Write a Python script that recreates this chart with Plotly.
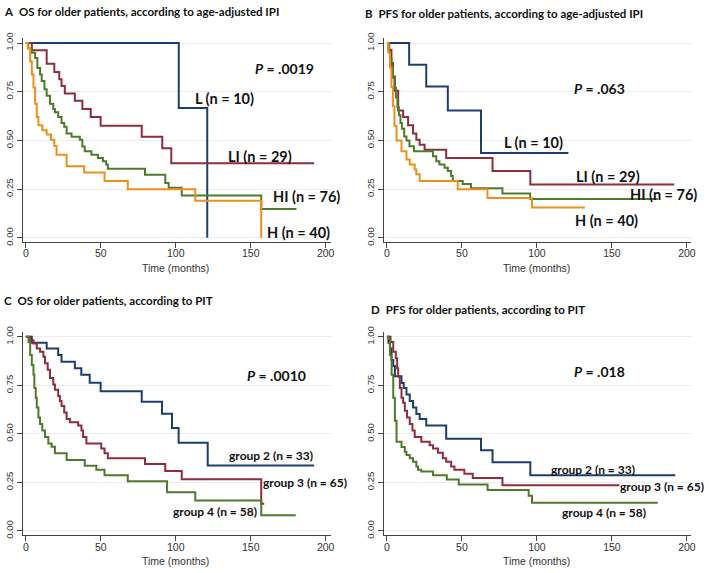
import plotly.graph_objects as go

# ---------------- data ----------------
# Panel A: OS, age-adjusted IPI
a_L_t = [0, 102, 121]
a_L_s = [1, 0.667, 0]
a_LI_t = [0, 4, 13.9, 19, 22.3, 23.8, 26, 32.7, 37.7, 43.3, 49.9, 77.3, 91, 97, 192.3]
a_LI_s = [1, 0.963, 0.894, 0.851, 0.814, 0.78, 0.741, 0.704, 0.662, 0.62, 0.575, 0.519, 0.46, 0.383, 0.383]
a_HI_t = [0, 1.5, 4, 6.2, 7.7, 9.5, 10.6, 12.4, 13.9, 16.1, 18.3, 19.4, 21.6, 23.8, 25.6, 27.2, 30.5, 36,
          37.7, 39.3, 43.7, 48.1, 51.4, 53.6, 54.7, 79.5, 93, 95.3, 104, 157, 180.5]
a_HI_s = [1, 0.973, 0.95, 0.923, 0.872, 0.839, 0.805, 0.763, 0.73, 0.688, 0.662, 0.645, 0.62, 0.59, 0.57,
          0.536, 0.519, 0.503, 0.469, 0.444, 0.427, 0.41, 0.393, 0.377, 0.355, 0.324, 0.282, 0.257, 0.218,
          0.148, 0.148]
a_H_t = [0, 1.3, 2.9, 4, 5.1, 6.2, 7.3, 8.4, 11, 13.9, 16.8, 19, 20.5, 27.2, 38.9, 52.5, 68, 113, 157]
a_H_s = [1, 0.973, 0.906, 0.839, 0.772, 0.688, 0.62, 0.578, 0.553, 0.531, 0.503, 0.472, 0.427, 0.368,
         0.335, 0.292, 0.25, 0.19, 0]

# Panel B: PFS, age-adjusted IPI
b_L_t = [0, 14.8, 26.2, 40.6, 62.7, 121]
b_L_s = [1, 0.889, 0.777, 0.654, 0.435, 0.435]
b_LI_t = [0, 1.5, 3, 4, 5.3, 7.5, 10.8, 14.1, 17.4, 19.6, 21.8, 25.1, 39.5, 70.4, 95.6, 191.6]
b_LI_s = [1, 0.966, 0.897, 0.828, 0.755, 0.654, 0.62, 0.578, 0.536, 0.503, 0.478, 0.452, 0.41, 0.343,
          0.274, 0.274]
b_HI_t = [0, 1, 2, 3, 4, 5, 6, 7, 8, 9, 10, 11.5, 13, 15, 18, 30.7, 32.9, 35, 38.4, 40.6, 42.8, 43.9,
          50.5, 56, 77, 95.5, 180.6]
b_HI_s = [1, 0.96, 0.92, 0.87, 0.82, 0.77, 0.72, 0.67, 0.63, 0.59, 0.56, 0.52, 0.5, 0.47, 0.445, 0.419,
          0.393, 0.377, 0.36, 0.343, 0.318, 0.292, 0.276, 0.255, 0.228, 0.2, 0.2]
b_H_t = [0, 1, 2, 3, 4, 5, 6.4, 9.7, 13, 15.2, 18.5, 19.6, 21.8, 47.2, 67, 96.7, 132]
b_H_s = [1, 0.95, 0.875, 0.775, 0.675, 0.575, 0.5, 0.444, 0.402, 0.377, 0.351, 0.326, 0.292, 0.25,
         0.205, 0.156, 0.156]

# Panel C: OS, PIT
c_g2_t = [0, 4, 13.9, 21.6, 23.8, 32.7, 37, 42.6, 49.9, 77.3, 90.8, 97.5, 101.9, 121.3, 192.3]
c_g2_s = [1, 0.97, 0.94, 0.906, 0.872, 0.838, 0.805, 0.763, 0.72, 0.666, 0.604, 0.531, 0.455, 0.337, 0.337]
c_g3_t = [0, 2.9, 5.1, 7.3, 9.5, 11.7, 12.8, 14.6, 16.1, 18.3, 19.4, 21.6, 22.7, 23.8, 25.6, 27.2, 29.4,
          34.9, 37.1, 38.2, 40.4, 50.3, 52.5, 54.7, 79.5, 93, 104, 157, 159]
c_g3_s = [1, 0.982, 0.965, 0.94, 0.923, 0.897, 0.864, 0.83, 0.788, 0.754, 0.728, 0.695, 0.67, 0.644,
          0.61, 0.577, 0.56, 0.543, 0.518, 0.484, 0.45, 0.425, 0.4, 0.375, 0.345, 0.309, 0.266, 0.14, 0.14]
c_g4_t = [0, 1.8, 2.9, 4, 5.1, 5.7, 6.6, 7.3, 8.4, 9.5, 11, 12.8, 15, 17.2, 19.4, 27.2, 39.3, 47, 52.5,
          68, 94.2, 113, 157, 180]
c_g4_s = [1, 0.973, 0.906, 0.855, 0.805, 0.737, 0.686, 0.636, 0.585, 0.551, 0.518, 0.484, 0.45, 0.434,
          0.4, 0.366, 0.336, 0.315, 0.287, 0.256, 0.199, 0.157, 0.081, 0.081]

# Panel D: PFS, PIT
d_g2_t = [0, 1, 2, 3, 4.2, 5.3, 9.7, 11.2, 13, 15.2, 17.4, 19.6, 21.8, 26.2, 39.5, 62.7, 70.4, 95.6, 192.3]
d_g2_s = [1, 0.97, 0.94, 0.88, 0.85, 0.797, 0.762, 0.737, 0.703, 0.67, 0.636, 0.602, 0.577, 0.543,
          0.475, 0.416, 0.354, 0.287, 0.287]
d_g3_t = [0, 2.4, 4.2, 5.9, 6.8, 7.5, 8.6, 9.7, 10.8, 11.9, 13.4, 15.2, 17, 18.5, 22.9, 28.5, 30.7, 34,
          37.3, 39.5, 42.8, 45, 51.6, 57.2, 77, 155]
d_g3_s = [1, 0.973, 0.923, 0.889, 0.838, 0.796, 0.737, 0.686, 0.661, 0.619, 0.585, 0.551, 0.518, 0.484,
          0.459, 0.442, 0.425, 0.403, 0.375, 0.357, 0.332, 0.315, 0.295, 0.273, 0.235, 0.235]
d_g4_t = [0, 0.9, 2, 3.1, 4.2, 5.3, 6.4, 9.7, 11.9, 13, 15.2, 17.4, 19.6, 20.7, 22.9, 30.7, 39.9, 47.9,
          67.1, 94.5, 96.7, 180.6]
d_g4_s = [1, 0.99, 0.906, 0.805, 0.686, 0.568, 0.459, 0.433, 0.408, 0.391, 0.374, 0.357, 0.332, 0.315,
          0.307, 0.287, 0.265, 0.24, 0.211, 0.182, 0.145, 0.145]

panel_titles = ["OS for older patients, according to age-adjusted IPI",
                "PFS for older patients, according to age-adjusted IPI",
                "OS for older patients, according to PIT",
                "PFS for older patients, according to PIT"]
panel_letters = ["A", "B", "C", "D"]
p_values = [".0019", ".063", ".0010", ".018"]
ipi_labels = ["L (n = 10)", "LI (n = 29)", "HI (n = 76)", "H (n = 40)"]
pit_labels = ["group 2 (n = 33)", "group 3 (n = 65)", "group 4 (n = 58)"]
x_ticks = [0, 50, 100, 150, 200]
y_ticks = [0, 0.25, 0.5, 0.75, 1.0]

# ---------------- style ----------------
NAVY, MAROON, GREEN, ORANGE = "#1c3e6e", "#8e2d3c", "#4f7a2c", "#ec901a"
LBL_FONT = "Lato"
TICK_FONT = "Liberation Sans"

fig = go.Figure()

panels = [
    ("x", "y", [(a_L_t, a_L_s, NAVY), (a_LI_t, a_LI_s, MAROON), (a_HI_t, a_HI_s, GREEN), (a_H_t, a_H_s, ORANGE)]),
    ("x2", "y2", [(b_L_t, b_L_s, NAVY), (b_LI_t, b_LI_s, MAROON), (b_HI_t, b_HI_s, GREEN), (b_H_t, b_H_s, ORANGE)]),
    ("x3", "y3", [(c_g2_t, c_g2_s, NAVY), (c_g3_t, c_g3_s, MAROON), (c_g4_t, c_g4_s, GREEN)]),
    ("x4", "y4", [(d_g2_t, d_g2_s, NAVY), (d_g3_t, d_g3_s, MAROON), (d_g4_t, d_g4_s, GREEN)]),
]
for xa, ya, curves in panels:
    for t, s, col in curves:
        fig.add_trace(go.Scatter(x=t, y=s, mode="lines", line=dict(color=col, width=2, shape="hv"),
                                 xaxis=xa, yaxis=ya, showlegend=False, hoverinfo="skip"))

W, H = 709, 573
xdom_left = [22.7 / W, 333 / W]
xdom_right = [386.3 / W, 695.7 / W]
ydom_top = [(H - 240) / H, (H - 33) / H]
ydom_bot = [(H - 538.3) / H, (H - 331.7) / H]
xr_left = [-2.19, 203.3]
xr_right = [-2.25, 202.6]
yr_top = [-0.0202, 1.0237]
yr_bot = [-0.0202, 1.0253]

def xaxis(dom, rng, anchor):
    return dict(domain=dom, range=rng, anchor=anchor, tickvals=x_ticks, ticks="outside", ticklen=5,
                tickcolor="#444", showline=True, linecolor="#444", linewidth=1, showgrid=False,
                zeroline=False, tickfont=dict(family=TICK_FONT, size=10.5, color="#333"),
                ticklabelstandoff=-3, fixedrange=True)

def yaxis(dom, rng, anchor):
    return dict(domain=dom, range=rng, anchor=anchor, tickvals=y_ticks, tickformat=".2f", ticks="outside",
                ticklen=5, tickcolor="#444", showline=True, linecolor="#444", linewidth=1, showgrid=True,
                gridcolor="#ececec", gridwidth=1, zeroline=False, tickangle=-90,
                tickfont=dict(family=TICK_FONT, size=9.5, color="#333"), fixedrange=True)

fig.update_layout(
    width=W, height=H, margin=dict(l=0, r=0, t=0, b=0),
    paper_bgcolor="white", plot_bgcolor="white",
    xaxis=xaxis(xdom_left, xr_left, "y"), yaxis=yaxis(ydom_top, yr_top, "x"),
    xaxis2=xaxis(xdom_right, xr_right, "y2"), yaxis2=yaxis(ydom_top, yr_top, "x2"),
    xaxis3=xaxis(xdom_left, xr_left, "y3"), yaxis3=yaxis(ydom_bot, yr_bot, "x3"),
    xaxis4=xaxis(xdom_right, xr_right, "y4"), yaxis4=yaxis(ydom_bot, yr_bot, "x4"),
)

ann = []
# panel titles (pixel positions -> paper)
title_pos = [(2, 6), (366, 7.3), (2, 300), (372, 309.3)]
for (px, py), letter, title in zip(title_pos, panel_letters, panel_titles):
    ann.append(dict(x=px / W, y=1 - py / H, xref="paper", yref="paper", xanchor="left", yanchor="middle",
                    text=f"<b>{letter}</b>  <b>{title}</b>", showarrow=False,
                    font=dict(family=LBL_FONT, size=11.5, color="#111")))
# axis titles
for xref, yv in [("x", 267), ("x2", 267), ("x3", 565), ("x4", 565)]:
    ann.append(dict(x=100, y=1 - yv / H, xref=xref, yref="paper", xanchor="center", yanchor="middle",
                    text="Time (months)", showarrow=False, font=dict(family=TICK_FONT, size=10.5, color="#333")))

# P-values
p_pos = [("x", "y", 172.6, 0.867), ("x2", "y2", 141.8, 0.767), ("x3", "y3", 167.1, 0.803), ("x4", "y4", 141.4, 0.82)]
for (xr, yr, xv, yv), p in zip(p_pos, p_values):
    ann.append(dict(x=xv, y=yv, xref=xr, yref=yr, xanchor="center", yanchor="middle", showarrow=False,
                    text=f"<b><i>P</i> = {p}</b>", font=dict(family=LBL_FONT, size=14, color="#111")))

# group labels
a_lab_pos = [(132.8, 0.716), (156, 0.42), (187.3, 0.21), (181.7, 0.03)]
b_lab_pos = [(98, 0.489), (147.4, 0.313), (184.4, 0.223), (146.5, 0.089)]
c_lab_pos = [(163.2, 0.388), (185.9, 0.25), (126.3, 0.098)]
d_lab_pos = [(137.2, 0.317), (183.3, 0.229), (144.9, 0.094)]
for xr, yr, poss, labs, size in [("x", "y", a_lab_pos, ipi_labels, 14.5), ("x2", "y2", b_lab_pos, ipi_labels, 14.5),
                                 ("x3", "y3", c_lab_pos, pit_labels, 12), ("x4", "y4", d_lab_pos, pit_labels, 12)]:
    for (xv, yv), lab in zip(poss, labs):
        ann.append(dict(x=xv, y=yv, xref=xr, yref=yr, xanchor="center", yanchor="middle", showarrow=False,
                        text=f"<b>{lab}</b>", font=dict(family=LBL_FONT, size=size, color="#111")))

fig.update_layout(annotations=ann)
fig.write_html("out.html", config={"displayModeBar": False},
               post_script="document.body.style.margin='0px';document.body.style.overflow='hidden';")
